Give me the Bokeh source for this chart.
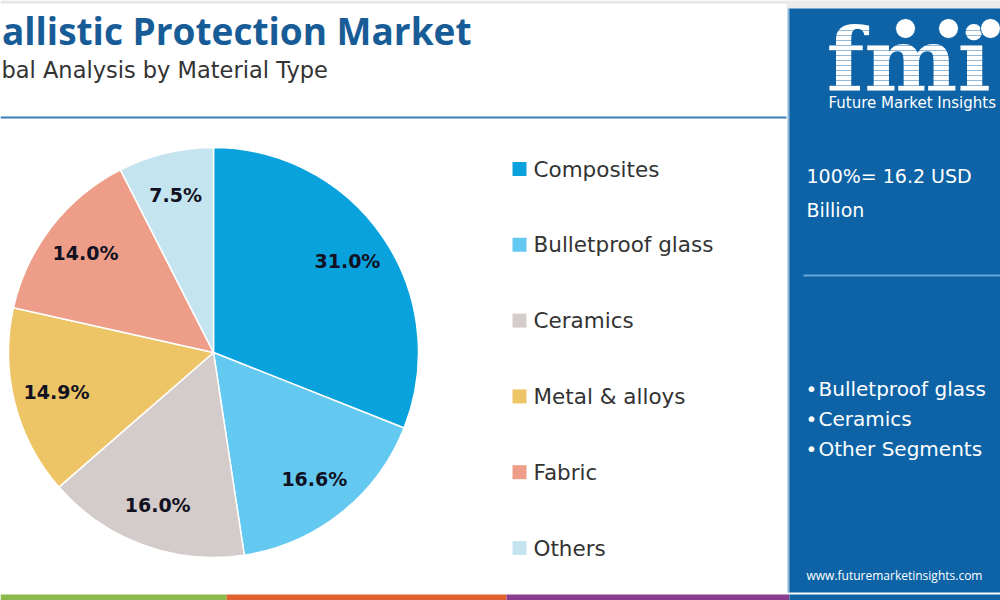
import numpy as np
from bokeh.plotting import figure
from bokeh.models import Range1d, ColumnDataSource
from bokeh.core.properties import value
from bokeh.embed import file_html
from bokeh.resources import INLINE

# ---- data ----
categories = ["Composites", "Bulletproof glass", "Ceramics", "Metal & alloys", "Fabric", "Others"]
shares = [31.0, 16.6, 16.0, 14.9, 14.0, 7.5]
colors = ["#0AA2DC", "#64C9F1", "#D4CCCA", "#EEC566", "#EE9E88", "#C4E4F0"]
title = "allistic Protection Market"          # as visible (cropped) in the reference
subtitle = "bal Analysis by Material Type"    # as visible (cropped) in the reference
total_text = ["100%= 16.2 USD", "Billion"]
highlights = ["Bulletproof glass", "Ceramics", "Other Segments"]

W, H = 1000, 600
def Y(y):  # screen y -> data y
    return H - y

p = figure(width=W, height=H, x_range=Range1d(0, W), y_range=Range1d(0, H),
           output_backend="svg", toolbar_location=None, min_border=0)
p.axis.visible = False
p.grid.visible = False
p.outline_line_color = None
p.background_fill_color = "white"

BODY = "DejaVu Sans"

# top thin grey strip
p.quad(left=0, right=W, bottom=Y(3), top=Y(0), fill_color="#E6E6E6", line_color=None)
p.quad(left=786, right=W, bottom=Y(8), top=Y(0), fill_color="#ECECEC", line_color=None)

# title & subtitle
p.text(x=[471], y=[Y(30)], text=[title], text_font=value("Open Sans"), text_font_style="bold",
       text_font_size="37px", text_color="#175C96", text_align="right", text_baseline="middle")
p.text(x=[1], y=[Y(69)], text=[subtitle], text_font=value(BODY),
       text_font_size="22.5px", text_color="#333333", text_align="left", text_baseline="middle")

# separator line
p.segment(x0=[0], y0=[Y(117)], x1=[786], y1=[Y(117)], line_color="#3C7FB6", line_width=2)

# ---- pie ----
cx, cy, r = 213, Y(352), 205
vals = np.array(shares)
frac = vals / vals.sum()
cum = np.concatenate([[0], np.cumsum(frac)])
start = np.pi / 2 - cum[1:] * 2 * np.pi
end = np.pi / 2 - cum[:-1] * 2 * np.pi
src = ColumnDataSource(dict(start=start, end=end, color=colors, cat=categories))
p.wedge(x=cx, y=cy, radius=r, start_angle="start", end_angle="end", fill_color="color",
        line_color="white", line_width=1.5, source=src)
mid = (start + end) / 2
lr = 0.79 * r
lab = ColumnDataSource(dict(x=cx + lr * np.cos(mid), y=cy + lr * np.sin(mid),
                            t=[f"{v:.1f}%" for v in shares]))
p.text(x="x", y="y", text="t", source=lab, text_font=value(BODY), text_font_style="bold",
       text_font_size="19px", text_color="#111122", text_align="center", text_baseline="middle")

# ---- legend ----
ly = [Y(168.5 + 75.8 * i) for i in range(len(categories))]
leg = ColumnDataSource(dict(x=[519] * len(categories), y=ly, c=colors, t=categories,
                            tx=[533] * len(categories)))
p.rect(x="x", y="y", width=14, height=14, fill_color="c", line_color=None, source=leg)
p.text(x="tx", y="y", text="t", source=leg, text_font=value(BODY), text_font_size="21.5px",
       text_color="#333333", text_align="left", text_baseline="middle")

# ---- right panel ----
p.quad(left=788, right=W, bottom=Y(592), top=Y(8), fill_color="#0D63A6", line_color=None)
p.segment(x0=[788], y0=[Y(8)], x1=[788], y1=[Y(592)], line_color="#8DBBE0", line_width=2)

# logo
p.text(x=[826], y=[Y(59)], text=["fmi"], text_font=value("DejaVu Serif"), text_font_style="bold",
       text_font_size="88px", text_color="white", text_align="left", text_baseline="middle")
stripes_y = [Y(y) for y in range(30, 92, 5)]
p.segment(x0=[820] * len(stripes_y), y0=stripes_y, x1=[W] * len(stripes_y), y1=stripes_y,
          line_color="#0D63A6", line_width=1.2, line_alpha=0.45)
p.scatter(x=[905, 948, 990], y=[Y(28)] * 3, size=20, marker="circle",
          fill_color="white", line_color="#0D63A6", line_width=1)
p.text(x=[828], y=[Y(102)], text=["Future Market Insights"], text_font=value(BODY),
       text_font_size="15px", text_color="white", text_align="left", text_baseline="middle")

p.text(x=[806, 806], y=[Y(175), Y(209)], text=total_text, text_font=value(BODY),
       text_font_size="19px", text_color="white", text_align="left", text_baseline="middle")
p.segment(x0=[803], y0=[Y(275)], x1=[W], y1=[Y(275)], line_color="#6AA6D9", line_width=2)

hy = [Y(388 + 30 * i) for i in range(len(highlights))]
p.text(x=[805] * len(highlights), y=hy, text=["\u2022"] * len(highlights), text_font=value(BODY),
       text_font_size="20px", text_color="white", text_align="left", text_baseline="middle")
p.text(x=[818] * len(highlights), y=hy, text=highlights, text_font=value(BODY),
       text_font_size="20px", text_color="white", text_align="left", text_baseline="middle")

p.text(x=[806], y=[Y(575)], text=["www.futuremarketinsights.com"], text_font=value("Open Sans"),
       text_font_size="12px", text_color="white", text_align="left", text_baseline="middle")

# bottom colour strips
p.quad(left=[0, 226, 506, 789], right=[226, 506, 789, W], bottom=[Y(600)] * 4, top=[Y(594)] * 4,
       fill_color=["#8BB94B", "#E0622E", "#8B3D8F", "#0D63A6"], line_color=None)

open("out.html", "w").write(file_html(p, INLINE))
